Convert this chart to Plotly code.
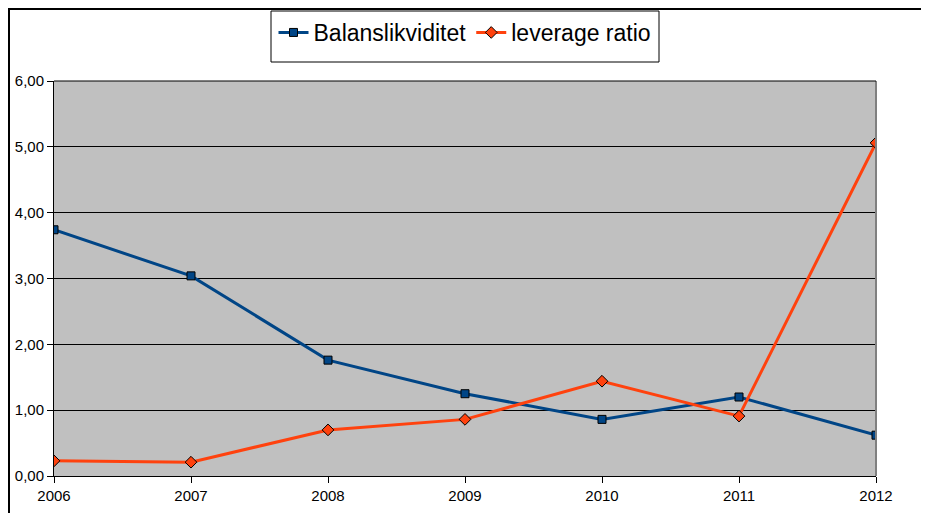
import plotly.graph_objects as go

years = ["2006", "2007", "2008", "2009", "2010", "2011", "2012"]
balanslikviditet = [3.74, 3.04, 1.76, 1.25, 0.86, 1.20, 0.62]
leverage_ratio = [0.23, 0.21, 0.70, 0.86, 1.44, 0.91, 5.06]
y_ticks = [0, 1, 2, 3, 4, 5, 6]

# page body has an 8px margin; size the figure to fit the 929x513 window
W, H = 921, 505
ML, MR, MT, MB = 46, 53, 73, 37
PW, PH = W - ML - MR, H - MT - MB


def px(fx):
    return (fx - ML) / PW


def py(fy):
    return 1 + (MT - fy) / PH


fig = go.Figure()
fig.add_trace(go.Scatter(
    x=years, y=balanslikviditet, name="Balanslikviditet", mode="lines+markers",
    line=dict(color="#004586", width=3),
    marker=dict(symbol="square", size=8, color="#004586", line=dict(color="black", width=1)),
))
fig.add_trace(go.Scatter(
    x=years, y=leverage_ratio, name="leverage ratio", mode="lines+markers",
    line=dict(color="#ff420e", width=3),
    marker=dict(symbol="diamond", size=9, color="#ff420e", line=dict(color="black", width=1)),
))

fig.update_layout(
    width=W, height=H,
    margin=dict(l=ML, r=MR, t=MT, b=MB, pad=0, autoexpand=False),
    paper_bgcolor="white", plot_bgcolor="#c0c0c0",
    separators=", ",
    font=dict(family="Liberation Sans, Arial, sans-serif", color="black", size=15),
    showlegend=True,
    legend=dict(
        orientation="h", xref="container", x=(ML + PW / 2) / W, xanchor="center",
        yref="container", y=1 - 3 / H, yanchor="top",
        bgcolor="rgba(0,0,0,0)", borderwidth=0,
        font=dict(size=23, color="black"), itemwidth=30,
    ),
    xaxis=dict(
        type="category", range=[0, 6], showgrid=False, zeroline=False,
        showline=True, linecolor="black", linewidth=1,
        ticks="outside", ticklen=6, tickcolor="black",
        tickfont=dict(size=15, color="black"), automargin=False,
    ),
    yaxis=dict(
        range=[0, 6], tickvals=y_ticks, tickformat=".2f",
        showgrid=True, gridcolor="black", gridwidth=1, zeroline=False,
        showline=True, linecolor="black", linewidth=1,
        ticks="outside", ticklen=6, tickcolor="black",
        tickfont=dict(size=15, color="black"), automargin=False,
    ),
    shapes=[
        # legend box
        dict(type="rect", xref="paper", yref="paper", layer="above",
             x0=px(263), x1=px(651), y0=py(54), y1=py(3),
             fillcolor="white", line=dict(color="black", width=1)),
        # right plot edge (gray)
        dict(type="line", xref="paper", yref="paper", x0=1, x1=1, y0=0, y1=1,
             line=dict(color="#808080", width=2)),
        # top plot edge
        dict(type="line", xref="paper", yref="paper", x0=0, x1=1, y0=1, y1=1,
             line=dict(color="black", width=1)),
        # outer border top and left
        dict(type="line", xref="paper", yref="paper",
             x0=px(0), x1=px(W), y0=py(1), y1=py(1),
             line=dict(color="black", width=2)),
        dict(type="line", xref="paper", yref="paper",
             x0=px(1), x1=px(1), y0=py(H), y1=py(0),
             line=dict(color="black", width=2)),
    ],
)

fig.write_html("out.html")
